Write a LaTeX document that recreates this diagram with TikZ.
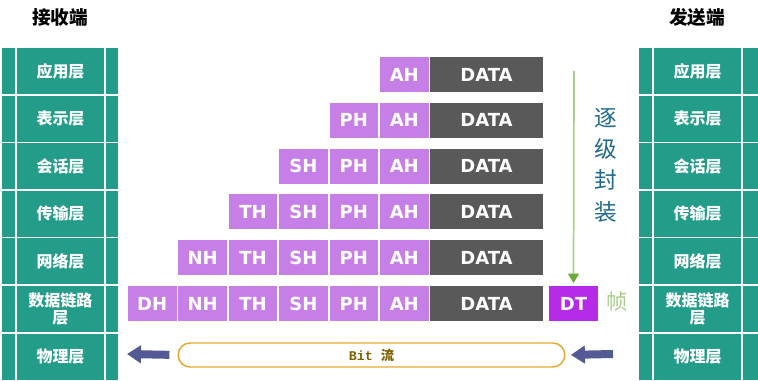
\documentclass[tikz,border=0pt]{standalone}
\usepackage{fontspec}
\usepackage{xcolor}
\usepackage{tikz}
\usetikzlibrary{arrows.meta,positioning}
\newfontfamily\cjk{Noto Sans CJK SC}
\newfontfamily\blk{DejaVu Sans}
\newfontfamily\mono{Liberation Mono}
\definecolor{osi}{HTML}{239C89}
\definecolor{hdr}{HTML}{C77FE8}
\definecolor{dgrey}{HTML}{595959}
\definecolor{dtc}{HTML}{B62BE8}
\definecolor{gline}{HTML}{A9D18E}
\definecolor{gtip}{HTML}{6DAA3C}
\definecolor{encc}{HTML}{216A8E}
\definecolor{frmc}{HTML}{A8CC8A}
\definecolor{bitc}{HTML}{E6A82A}
\definecolor{bitt}{HTML}{7F6000}
\definecolor{fat}{HTML}{545A94}
\tikzset{
  layer/.style={fill=osi,text=white,inner sep=0pt,minimum width=65.25pt,minimum height=34.5pt,
    align=center,font=\cjk\bfseries\fontsize{12}{13}\selectfont},
  blk/.style={inner sep=0pt,minimum height=26.25pt,text=white,font=\blk\bfseries\fontsize{13.5}{15}\selectfont},
  hd/.style={blk,fill=hdr,minimum width=36.5pt},
  datab/.style={blk,fill=dgrey,minimum width=84.75pt},
  title/.style={font=\cjk\bfseries\fontsize{14}{16}\selectfont},
  fatarrow/.style={fat,line width=6pt,-{Triangle[length=10.5pt,width=13pt]}}}
% one protocol stack: #1 centre x, #2 node prefix, #3 width of right strip
\newcommand{\osistack}[3]{%
  \foreach \lbl [count=\i from 0] in {应用层,表示层,会话层,传输层,网络层,{数据链路\\层},物理层}{
    \fill[osi] (#1-58.5,48+47.6*\i) rectangle ++(13,46);
    \fill[osi] (#1+45.5,48+47.6*\i) rectangle ++(#3,46);
    \node[layer] (#2\i) at (#1,71+47.6*\i) {\lbl};
  }}

\begin{document}
\begin{tikzpicture}[x=0.75pt,y=-0.75pt]
  \useasboundingbox (0,0) rectangle (758,381);
  \node[title] (recv) at (60,17) {接收端};
  \node[title] (send) at (697,17) {发送端};
  \osistack{60.5}{l}{12}
  \osistack{697.5}{r}{15}
  % headers added layer by layer
  \foreach \j in {0,...,5}{
    \node[datab] (d\j) at (486.5,74.5+45.8*\j) {DATA};
    \foreach \h [count=\k from 0] in {AH,PH,SH,TH,NH,DH}{
      \ifnum\k>\j\else
        \node[hd] (h\j\k) at (404.25-50.4*\k,74.5+45.8*\j) {\h};
      \fi}
  }
  \node[blk,fill=dtc,minimum width=36.5pt] (dt) at (573.5,303.5) {DT};
  \node[font=\cjk\fontsize{16}{18}\selectfont,text=frmc] (frame) at (617,301) {帧};
  \coordinate (enc) at (574,71);
  \draw[gline,line width=1.3pt,-{Triangle[length=7pt,width=8pt,color=gtip]},shorten >=2pt] (enc) -- (dt.north);
  \node[font=\cjk\fontsize{17}{23.5}\selectfont,text=encc,align=center] (steps) at (606,165) {逐\\级\\封\\装};
  % bit stream
  \node[draw=bitc,line width=1.1pt,rounded corners=9pt,minimum width=290pt,minimum height=18pt,inner sep=0pt,
    text=bitt,font=\mono\bfseries\fontsize{10}{12}\selectfont] (bit) at (371.5,355) {Bit {\cjk 流}};
  \coordinate (lend) at (127,354);
  \coordinate (rbeg) at (613,354);
  \draw[fatarrow,shorten <=6pt] (bit.west) -- (lend);
  \draw[fatarrow,shorten >=4pt] (rbeg) -- (bit.east);
\end{tikzpicture}
\end{document}
